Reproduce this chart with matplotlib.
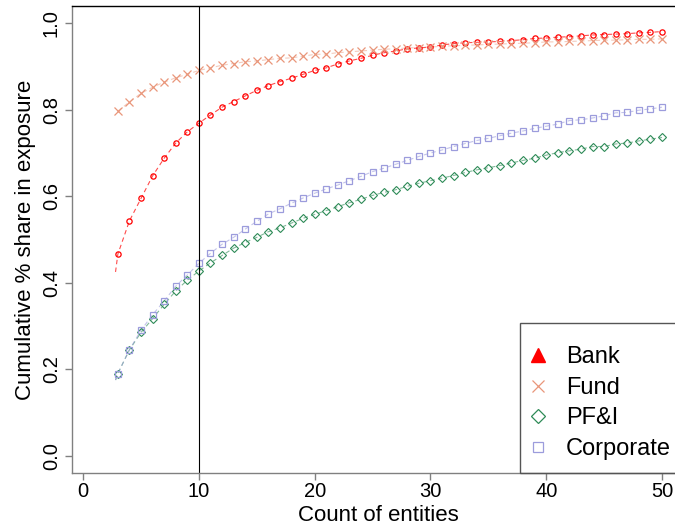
import matplotlib
matplotlib.use("Agg")
import matplotlib.pyplot as plt
from matplotlib.lines import Line2D
from matplotlib.patches import Rectangle

plt.rcParams["font.family"] = ["Liberation Sans", "DejaVu Sans"]

# count of entities (x axis)
counts = list(range(3, 51))

# cumulative share in exposure
bank = [0.466, 0.543, 0.595, 0.647, 0.688, 0.723, 0.749, 0.769, 0.788, 0.806,
        0.819, 0.832, 0.845, 0.856, 0.865, 0.873, 0.882, 0.891, 0.897, 0.906,
        0.913, 0.919, 0.926, 0.932, 0.936, 0.941, 0.943, 0.945, 0.950, 0.953,
        0.955, 0.956, 0.957, 0.958, 0.960, 0.962, 0.965, 0.966, 0.968, 0.969,
        0.971, 0.973, 0.974, 0.975, 0.976, 0.978, 0.979, 0.981]
fund = [0.797, 0.818, 0.838, 0.852, 0.864, 0.874, 0.882, 0.891, 0.897, 0.903,
        0.907, 0.911, 0.913, 0.916, 0.919, 0.920, 0.924, 0.928, 0.929, 0.932,
        0.934, 0.936, 0.938, 0.940, 0.941, 0.943, 0.944, 0.945, 0.947, 0.948,
        0.949, 0.950, 0.951, 0.952, 0.953, 0.954, 0.955, 0.957, 0.957, 0.958,
        0.959, 0.960, 0.961, 0.961, 0.962, 0.963, 0.963, 0.964]
pfi = [0.190, 0.245, 0.285, 0.317, 0.350, 0.381, 0.406, 0.427, 0.446, 0.463,
       0.480, 0.493, 0.505, 0.518, 0.527, 0.538, 0.549, 0.558, 0.567, 0.576,
       0.585, 0.593, 0.602, 0.609, 0.615, 0.623, 0.630, 0.636, 0.642, 0.648,
       0.655, 0.661, 0.666, 0.671, 0.677, 0.683, 0.688, 0.695, 0.701, 0.705,
       0.709, 0.715, 0.715, 0.721, 0.723, 0.728, 0.732, 0.736]
corporate = [0.190, 0.245, 0.290, 0.326, 0.358, 0.392, 0.418, 0.445, 0.468, 0.489,
             0.505, 0.524, 0.542, 0.559, 0.571, 0.584, 0.596, 0.607, 0.617, 0.626,
             0.636, 0.646, 0.657, 0.665, 0.674, 0.683, 0.692, 0.700, 0.707, 0.715,
             0.722, 0.729, 0.734, 0.740, 0.746, 0.751, 0.757, 0.762, 0.767, 0.775,
             0.777, 0.781, 0.786, 0.793, 0.794, 0.799, 0.802, 0.806]

# where the dashed guide lines start, just left of the first point
line_start_x = 2.8
bank_line_start = 0.425
low_line_start = 0.175

labels = ["Bank", "Fund", "PF&I", "Corporate"]
colors = ["#FF0000", "#E9967A", "#2E8B57", "#9C9CDC"]

fig = plt.figure(figsize=(6.75, 5.31), dpi=100)
ax = fig.add_axes([72 / 675, 58 / 531, 612.7 / 675, 467 / 531])

dash = (0, (4, 3))
ax.plot([line_start_x] + counts, [bank_line_start] + bank, color=colors[0],
        lw=0.8, ls=dash, alpha=0.7)
ax.plot(counts, fund, color=colors[1], lw=0.8, ls=dash, alpha=0.5)
ax.plot([line_start_x] + counts, [low_line_start] + pfi, color=colors[2],
        lw=0.8, ls=dash, alpha=0.6)
ax.plot([line_start_x] + counts, [low_line_start] + corporate, color=colors[3],
        lw=0.8, ls=dash, alpha=0.6)

ax.plot(counts, bank, ls="none", marker="o", ms=3.8, mfc="none", mec=colors[0], mew=0.9)
ax.plot(counts, fund, ls="none", marker="x", ms=5.5, mec=colors[1], mew=0.9)
ax.plot(counts, pfi, ls="none", marker="D", ms=3.7, mfc="none", mec=colors[2], mew=0.8)
ax.plot(counts, corporate, ls="none", marker="s", ms=4.0, mfc="none", mec=colors[3], mew=0.9)

ax.axvline(10, color="black", lw=0.8)

ax.set_xlim(-0.96, 51.96)
ax.set_ylim(-0.04, 1.04)
ax.set_xticks([0, 10, 20, 30, 40, 50])
ax.set_yticks([0.0, 0.2, 0.4, 0.6, 0.8, 1.0])
ax.set_yticklabels(["0.0", "0.2", "0.4", "0.6", "0.8", "1.0"], rotation=90, va="center")
ax.tick_params(axis="x", labelsize=14.5, length=5, width=1, color="#808080", pad=1.5)
ax.tick_params(axis="y", labelsize=14.5, length=5, width=1, color="#808080", pad=3)

for side in ["left", "bottom"]:
    ax.spines[side].set_color("#808080")
    ax.spines[side].set_linewidth(1.0)
ax.spines["top"].set_color("black")
ax.spines["top"].set_linewidth(1.0)

ax.set_xlabel("Count of entities", fontsize=16, labelpad=3)
ax.set_ylabel("Cumulative % share in exposure", fontsize=16, labelpad=4)

# legend box sits in the bottom right corner
ax.add_patch(Rectangle((0.7305, 0.0), 0.4, 0.321, transform=ax.transAxes,
                       fill=False, edgecolor="#555555", lw=1.0, clip_on=False, zorder=3))
handles = [
    Line2D([], [], ls="none", marker="^", ms=10, color=colors[0]),
    Line2D([], [], ls="none", marker="x", ms=9, mew=0.9, color=colors[1]),
    Line2D([], [], ls="none", marker="D", ms=7.2, mfc="none", mew=0.9, mec=colors[2]),
    Line2D([], [], ls="none", marker="s", ms=6.5, mfc="none", mew=0.9, mec=colors[3]),
]
ax.legend(handles, labels, loc="upper left", bbox_to_anchor=(0.7405, 0.271),
          frameon=False, fontsize=17, borderpad=0, borderaxespad=0,
          handlelength=1.0, handletextpad=0.7, labelspacing=0.36)

fig.savefig("out.png", dpi=100)
